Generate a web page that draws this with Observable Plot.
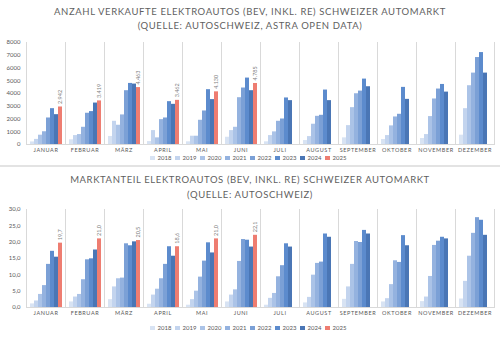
<!DOCTYPE html>
<html>
<head>
<meta charset="utf-8">
<script src="https://cdn.jsdelivr.net/npm/d3@7"></script>
<script src="https://cdn.jsdelivr.net/npm/@observablehq/plot@0.6"></script>
<style>
  html, body { margin: 0; padding: 0; background: #fff; }
  #root { position: relative; width: 500px; height: 338px; overflow: hidden; font-family: Lato, "Open Sans", sans-serif; color: #595959; }
  .title { position: absolute; left: 0; width: 500px; text-align: center; font-size: 9.5px; letter-spacing: 0.6px; line-height: 13.5px; color: #5f5f5f; white-space: nowrap; }
  .chart { position: absolute; left: 0; }
  .legend { position: absolute; left: 0; width: 500px; display: flex; justify-content: center; font-size: 6px; color: #595959; line-height: 8px; }
  .legend .item { display: flex; align-items: center; width: 25px; }
  .legend .sw { width: 4.5px; height: 4.5px; margin-right: 3px; }
  .sep { position: absolute; left: 0; width: 500px; top: 165px; height: 2px; background: #e3e3e3; }
  .chart g[aria-label="fx-axis tick label"] text { letter-spacing: 0.6px; font-size: 5.5px; }
</style>
</head>
<body>
<div id="root"></div>
<script>
const months = ["JANUAR","FEBRUAR","MÄRZ","APRIL","MAI","JUNI","JULI","AUGUST","SEPTEMBER","OKTOBER","NOVEMBER","DEZEMBER"];
const years = ["2018","2019","2020","2021","2022","2023","2024","2025"];
const colors = ["#d8e3f3","#c3d4ee","#abc3e7","#94b2df","#7ba0d6","#5c8bcd","#4a76b5","#ee7d71"];

// Verkaufte Elektroautos (Anzahl)
const sales2018 = [200, 370, 630, 230, 210, 570, 210, 310, 520, 390, 470, 730];
const sales2019 = [400, 700, 1820, 1090, 650, 1090, 700, 620, 1480, 700, 780, 2810];
const sales2020 = [730, 780, 1510, 520, 650, 1350, 990, 1590, 2890, 1460, 2190, 4610];
const sales2021 = [1000, 1350, 2320, 1950, 1900, 3670, 1820, 2210, 3980, 2160, 3570, 5600];
const sales2022 = [2080, 2450, 4220, 2080, 2630, 4430, 2000, 2290, 4190, 2370, 4350, 6820];
const sales2023 = [2810, 2580, 4790, 3360, 4300, 5210, 3650, 4270, 5130, 4480, 4710, 7210];
const sales2024 = [2340, 3250, 4740, 3150, 3520, 4220, 3440, 3440, 4530, 3540, 4110, 5600];
const sales2025 = [2942, 3419, 4463, 3462, 4130, 4785];

// Marktanteil Elektroautos (%)
const share2018 = [1.1, 1.7, 2.4, 1.0, 0.7, 1.7, 0.7, 1.4, 2.5, 1.7, 1.8, 2.6];
const share2019 = [2.0, 3.2, 6.3, 3.8, 2.4, 3.8, 2.8, 3.1, 6.3, 2.7, 3.2, 8.0];
const share2020 = [4.0, 4.0, 8.8, 5.6, 5.0, 5.4, 4.3, 9.9, 13.2, 7.0, 9.5, 15.7];
const share2021 = [6.7, 8.5, 9.0, 8.8, 9.3, 14.1, 9.4, 13.5, 20.2, 14.3, 19.0, 22.7];
const share2022 = [13.2, 14.6, 19.5, 13.2, 14.2, 20.8, 12.8, 13.9, 19.9, 13.8, 20.3, 27.5];
const share2023 = [17.2, 14.9, 18.9, 18.6, 19.8, 20.6, 19.5, 22.5, 23.6, 22.0, 21.5, 26.7];
const share2024 = [15.4, 17.6, 20.1, 15.7, 16.7, 18.5, 18.5, 21.5, 22.5, 18.9, 21.0, 22.1];
const share2025 = [19.7, 21.0, 20.5, 18.6, 21.0, 22.1];

const salesTicks = [0,1000,2000,3000,4000,5000,6000,7000,8000];
const shareTicks = [0,5,10,15,20,25,30];

const de = d3.formatLocale({decimal: ",", thousands: ".", grouping: [3], currency: ["", " CHF"]});
const fmtInt = de.format(",");
const fmt1 = de.format(",.1f");

function table(series) {
  const rows = [];
  series.forEach((vals, i) => vals.forEach((v, m) => rows.push({year: years[i], month: months[m], value: v})));
  return rows;
}
const salesData = table([sales2018, sales2019, sales2020, sales2021, sales2022, sales2023, sales2024, sales2025]);
const shareData = table([share2018, share2019, share2020, share2021, share2022, share2023, share2024, share2025]);

function chart(data, yDomain, yTicks, yFmt, labelFmt, height) {
  return Plot.plot({
    width: 500, height,
    marginLeft: 22, marginRight: 3, marginTop: 8, marginBottom: 12,
    style: {fontFamily: "Lato, 'Open Sans', sans-serif", fontSize: "6px", color: "#595959", background: "transparent", overflow: "visible"},
    fx: {domain: months, padding: 0, label: null, axis: "bottom", tickSize: 0, tickPadding: 4},
    x: {domain: years, axis: null, paddingInner: 0.1, paddingOuter: 0.45},
    y: {domain: yDomain, ticks: yTicks, tickFormat: yFmt, tickSize: 0, tickPadding: 6, label: null},
    color: {domain: years, range: colors},
    marks: [
      Plot.frame({anchor: "left", stroke: "#d9d9d9"}),
      Plot.frame({anchor: "right", stroke: "#d9d9d9"}),
      Plot.barY(data, {fx: "month", x: "year", y: "value", fill: "year"}),
      Plot.text(data.filter(d => d.year === "2025"), {fx: "month", x: "year", y: "value", text: d => labelFmt(d.value), rotate: -90, textAnchor: "start", dy: -3, fontSize: 5.5, fill: "#7f7f7f"}),
      Plot.ruleY([yDomain[0]], {stroke: "#d9d9d9"})
    ]
  });
}

function legend(top) {
  const el = document.createElement("div");
  el.className = "legend";
  el.style.top = top + "px";
  years.forEach((y, i) => {
    const it = document.createElement("div");
    it.className = "item";
    const sw = document.createElement("div");
    sw.className = "sw";
    sw.style.background = colors[i];
    const t = document.createElement("span");
    t.textContent = y;
    it.appendChild(sw); it.appendChild(t);
    el.appendChild(it);
  });
  return el;
}

function title(lines, top, lh) {
  const el = document.createElement("div");
  el.className = "title";
  el.style.top = top + "px";
  el.style.lineHeight = lh + "px";
  el.innerHTML = lines.join("<br>");
  return el;
}

const root = document.getElementById("root");
root.appendChild(title(["ANZAHL VERKAUFTE ELEKTROAUTOS (BEV, INKL. RE) SCHWEIZER AUTOMARKT", "(QUELLE: AUTOSCHWEIZ, ASTRA OPEN DATA)"], 5, 13.5));
const c1 = chart(salesData, [0, 8000], salesTicks, d => String(d), fmtInt, 122);
c1.classList.add("chart"); c1.style.top = "34px";
root.appendChild(c1);
root.appendChild(legend(154));
const sep = document.createElement("div"); sep.className = "sep"; root.appendChild(sep);
root.appendChild(title(["MARKTANTEIL ELEKTROAUTOS (BEV, INKL. RE) SCHWEIZER AUTOMARKT", "(QUELLE: AUTOSCHWEIZ)"], 173, 14.5));
const c2 = chart(shareData, [0, 30], shareTicks, d => fmt1(d), fmt1, 118);
c2.classList.add("chart"); c2.style.top = "201px";
root.appendChild(c2);
root.appendChild(legend(324));
</script>
</body>
</html>
